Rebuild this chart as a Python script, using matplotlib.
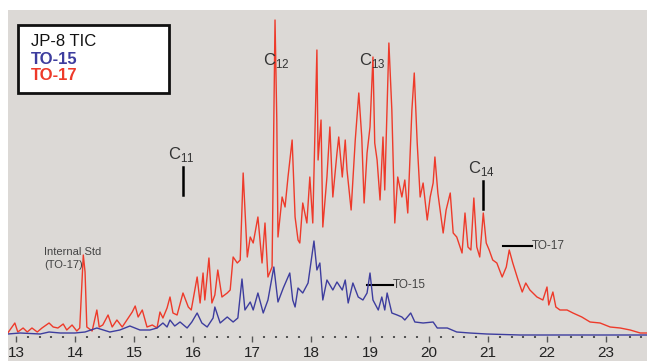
import matplotlib
matplotlib.use("Agg")
import matplotlib.pyplot as plt
from matplotlib.patches import Rectangle
import numpy as np

plt.rcParams["font.family"] = ["Liberation Sans", "DejaVu Sans"]
plt.rcParams["mathtext.fontset"] = "custom"
plt.rcParams["mathtext.rm"] = "Liberation Sans"

# retention time (min) and relative abundance
to17_time = [12.86, 12.98, 13.03, 13.12, 13.19, 13.27, 13.36, 13.44, 13.56, 13.63,
             13.71, 13.80, 13.86, 13.95, 14.03, 14.08, 14.14, 14.17, 14.20, 14.29,
             14.37, 14.41, 14.47, 14.56, 14.63, 14.71, 14.80, 14.88, 14.97, 15.02,
             15.07, 15.14, 15.22, 15.31, 15.39, 15.44, 15.49, 15.56, 15.61, 15.66,
             15.73, 15.83, 15.92, 15.97, 16.07, 16.12, 16.17, 16.20, 16.27, 16.32,
             16.37, 16.42, 16.49, 16.58, 16.63, 16.68, 16.75, 16.80, 16.85, 16.92,
             16.97, 17.02, 17.10, 17.17, 17.22, 17.27, 17.34, 17.39, 17.42, 17.44,
             17.51, 17.56, 17.61, 17.68, 17.73, 17.78, 17.81, 17.86, 17.93, 17.98,
             18.03, 18.10, 18.12, 18.17, 18.20, 18.27, 18.32, 18.37, 18.44, 18.47,
             18.53, 18.58, 18.61, 18.68, 18.75, 18.81, 18.86, 18.90, 18.95, 19.00,
             19.05, 19.08, 19.12, 19.17, 19.22, 19.25, 19.32, 19.37, 19.42, 19.47,
             19.54, 19.59, 19.64, 19.71, 19.75, 19.80, 19.85, 19.90, 19.97, 20.02,
             20.07, 20.10, 20.15, 20.24, 20.29, 20.36, 20.41, 20.47, 20.56, 20.61,
             20.66, 20.71, 20.76, 20.81, 20.86, 20.92, 20.97, 21.02, 21.08, 21.15,
             21.24, 21.31, 21.36, 21.42, 21.51, 21.58, 21.64, 21.71, 21.83, 21.93,
             22.00, 22.03, 22.10, 22.15, 22.22, 22.34, 22.44, 22.59, 22.73, 22.90,
             23.07, 23.24, 23.41, 23.58, 23.69]
to17_abund = [3, 13, 4, 8, 4, 8, 4, 8, 13, 9,
              8, 12, 6, 11, 5, 8, 81, 64, 9, 5,
              26, 9, 11, 21, 9, 16, 9, 16, 24, 30,
              19, 26, 9, 11, 8, 24, 18, 28, 39, 23,
              21, 43, 29, 26, 59, 33, 63, 36, 78, 33,
              41, 66, 39, 43, 46, 79, 73, 76, 163, 79,
              99, 93, 119, 73, 113, 59, 69, 316, 216, 99,
              139, 129, 159, 196, 119, 96, 93, 133, 113, 159,
              113, 286, 176, 216, 109, 159, 209, 139, 183, 199,
              159, 196, 166, 126, 196, 243, 199, 133, 183, 209,
              279, 193, 176, 136, 199, 146, 293, 226, 113, 159,
              139, 156, 123, 226, 263, 193, 139, 153, 116, 139,
              153, 179, 143, 103, 126, 143, 103, 99, 83, 123,
              89, 86, 138, 89, 79, 123, 93, 86, 76, 73,
              59, 69, 86, 73, 56, 44, 53, 46, 39, 36,
              49, 31, 44, 29, 26, 26, 23, 19, 14, 13,
              9, 8, 6, 3, 3]

to15_time = [12.86, 13.07, 13.41, 13.56, 13.75, 14.00, 14.17, 14.37, 14.59, 14.76,
             14.93, 15.10, 15.27, 15.39, 15.49, 15.56, 15.61, 15.69, 15.78, 15.90,
             15.98, 16.07, 16.15, 16.24, 16.34, 16.37, 16.46, 16.58, 16.68, 16.76,
             16.83, 16.88, 16.97, 17.02, 17.10, 17.19, 17.27, 17.37, 17.44, 17.53,
             17.64, 17.69, 17.73, 17.78, 17.86, 17.95, 18.05, 18.10, 18.15, 18.20,
             18.27, 18.37, 18.44, 18.53, 18.58, 18.63, 18.71, 18.80, 18.88, 18.95,
             19.00, 19.05, 19.14, 19.20, 19.25, 19.29, 19.37, 19.46, 19.54, 19.59,
             19.69, 19.76, 19.90, 20.07, 20.14, 20.31, 20.47, 20.69, 20.98, 21.54,
             23.69]
to15_abund = [2, 3, 2, 4, 3, 3, 4, 8, 4, 6,
              10, 6, 6, 8, 13, 9, 16, 10, 14, 8,
              14, 23, 13, 9, 18, 29, 13, 19, 14, 18,
              57, 26, 34, 26, 43, 23, 36, 69, 34, 48,
              63, 36, 29, 48, 43, 53, 95, 66, 73, 36,
              56, 46, 54, 46, 56, 33, 53, 39, 36, 43,
              63, 36, 26, 39, 26, 43, 23, 21, 19, 16,
              23, 14, 13, 14, 8, 8, 4, 3, 2, 1,
              1]

major_ticks = list(range(13, 24))

bg = "#dcd9d6"
red = "#ee3a2a"
blue = "#3d3d9e"
txt = "#333333"

fig = plt.figure(figsize=(6.47, 3.61), dpi=100)
fig.patch.set_facecolor("white")
fig.patches.append(Rectangle((8 / 647, 0), 1, 351 / 361, transform=fig.transFigure,
                             facecolor=bg, edgecolor="none", zorder=-10))

ax = fig.add_axes([8 / 647, 25 / 361, 639 / 647, 326 / 361])
ax.set_zorder(1)
ax.set_facecolor("none")
ax.plot(to17_time, to17_abund, color=red, lw=1.0, zorder=2)
ax.plot(to15_time, to15_abund, color=blue, lw=1.0, zorder=3)

ax.set_xlim(12.864, 23.695)
ax.set_ylim(0, 326)
for s in ax.spines.values():
    s.set_visible(False)
ax.set_yticks([])
ax.set_xticks(major_ticks)
ax.set_xticks(np.arange(13.2, 23.7, 0.2), minor=True)
ax.tick_params(axis="x", which="major", length=4, width=1, color="#555555",
               labelsize=11, labelcolor="#222222", pad=3)
ax.tick_params(axis="x", which="minor", length=1.5, width=1.5, color="#555555")

# peak labels
for t, y, n in [(15.80, 181, "11"), (17.42, 276, "12"), (19.03, 276, "13"), (20.88, 167, "14")]:
    ax.text(t, y, "C$_{" + n + "}$", ha="center", va="center", fontsize=12, color=txt)
ax.plot([15.83, 15.83], [141, 169], color="black", lw=1.8)
ax.plot([20.92, 20.92], [127, 155], color="black", lw=1.8)

ax.plot([21.25, 21.75], [90, 90], color="black", lw=1.5)
ax.text(21.75, 90, "TO-17", ha="left", va="center", fontsize=8.5, color="#444444")
ax.plot([18.95, 19.39], [51, 51], color="black", lw=1.5)
ax.text(19.39, 51, "TO-15", ha="left", va="center", fontsize=8.5, color="#444444")
ax.text(13.47, 84, "Internal Std", ha="left", va="center", fontsize=8, color="#444444")
ax.text(13.47, 71, "(TO-17)", ha="left", va="center", fontsize=8, color="#444444")

# legend box
fig.patches.append(Rectangle((18 / 647, 1 - 93 / 361), 151 / 647, 68 / 361,
                             transform=fig.transFigure, facecolor="white",
                             edgecolor="#111111", lw=2, zorder=5))
fig.text(31 / 647, 1 - 42 / 361, "JP-8 TIC", fontsize=12, color="#111111", va="center", zorder=6)
fig.text(31 / 647, 1 - 60 / 361, "TO-15", fontsize=12, color=blue, fontweight="bold", va="center", zorder=6)
fig.text(31 / 647, 1 - 76 / 361, "TO-17", fontsize=12, color=red, fontweight="bold", va="center", zorder=6)

fig.savefig("out.png", dpi=100)
